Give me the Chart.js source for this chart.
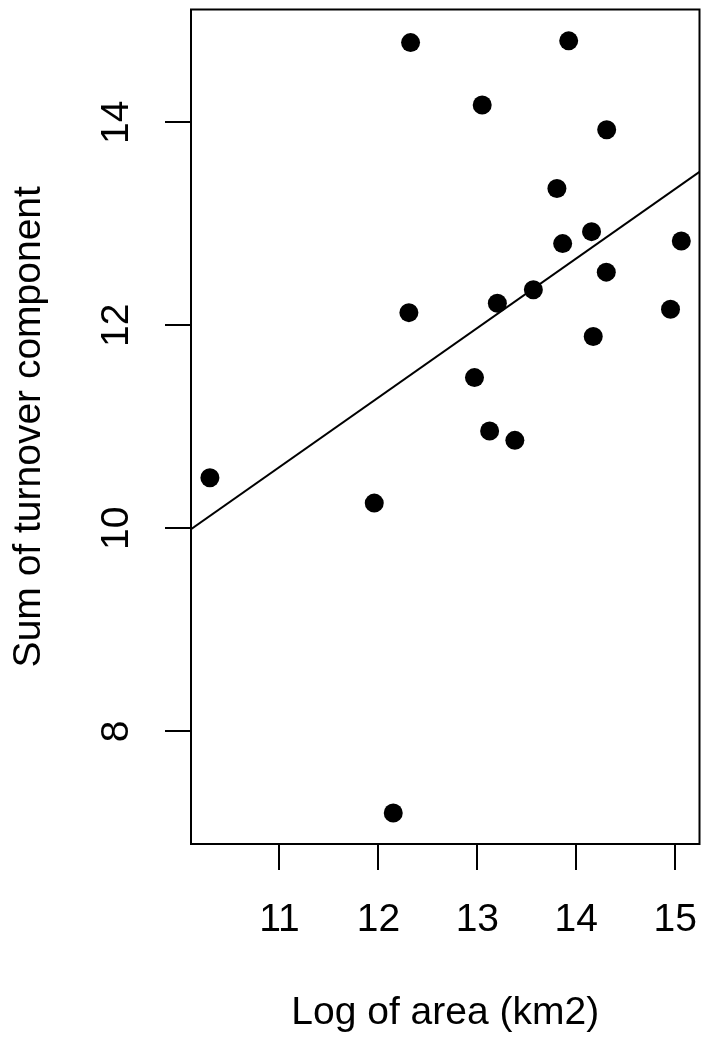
<!DOCTYPE html>
<html>
<head>
<meta charset="utf-8">
<script src="https://cdn.jsdelivr.net/npm/chart.js@4"></script>
<style>
  body { margin: 0; background: #fff; }
  canvas { display: block; }
</style>
</head>
<body>
<canvas id="turnover-chart" width="709" height="1044"></canvas>
<script>
// Valores
const logArea = [10.297, 12.325, 13.923, 13.049, 14.307, 13.804, 14.154, 13.862, 15.061, 14.303,
                 13.566, 13.202, 12.308, 14.952, 14.171, 12.971, 13.124, 13.379, 11.958, 12.15];
const turnoverSum = [10.497, 14.784, 14.801, 14.170, 13.925, 13.346, 12.922, 12.804, 12.830, 12.523,
                     12.35, 12.216, 12.124, 12.157, 11.889, 11.484, 10.958, 10.866, 10.248, 7.196];

// Recta de regresión (extremos en el borde del panel)
const fitX = [10.106, 15.245];
const fitY = [9.99, 13.51];

const xTicks = [11, 12, 13, 14, 15];
const yTicks = [8, 10, 12, 14];
const xRange = [10.106, 15.245];
const yRange = [6.89, 15.11];

const FONT = 'Liberation Sans, Arial, Helvetica, sans-serif';

// Marco del panel, como en R (bty = "o")
const boxPlugin = {
  id: 'plotBox',
  afterDraw(chart) {
    const { ctx, chartArea: a } = chart;
    ctx.save();
    ctx.strokeStyle = '#000';
    ctx.lineWidth = 2;
    ctx.strokeRect(a.left, a.top, a.right - a.left, a.bottom - a.top);
    ctx.restore();
  },
};

// Quita el relleno que Chart.js reserva para las etiquetas de los extremos
function noEdgePadding(scale) {
  scale.paddingTop = 0;
  scale.paddingBottom = 0;
  scale.paddingLeft = 0;
  scale.paddingRight = 0;
}

const ctx = document.getElementById('turnover-chart').getContext('2d');

new Chart(ctx, {
  type: 'scatter',
  data: {
    datasets: [
      {
        label: 'fit',
        data: fitX.map((x, i) => ({ x, y: fitY[i] })),
        showLine: true,
        borderColor: '#000',
        borderWidth: 2,
        pointRadius: 0,
        order: 0,
      },
      {
        label: 'sites',
        data: logArea.map((x, i) => ({ x, y: turnoverSum[i] })),
        backgroundColor: '#000',
        borderColor: '#000',
        borderWidth: 0,
        pointRadius: 9.5,
        pointHoverRadius: 9.5,
        order: 1,
      },
    ],
  },
  options: {
    responsive: false,
    animation: false,
    devicePixelRatio: 1,
    layout: { padding: { top: 6, right: 8, left: 0, bottom: 0 } },
    plugins: { legend: { display: false }, tooltip: { enabled: false } },
    scales: {
      x: {
        type: 'linear',
        min: xRange[0],
        max: xRange[1],
        afterBuildTicks: (scale) => { scale.ticks = xTicks.map((v) => ({ value: v })); },
        afterFit: (scale) => { scale.height = 200; noEdgePadding(scale); },
        border: { display: false },
        grid: { drawOnChartArea: false, drawTicks: true, tickLength: 26, color: '#000', lineWidth: 2 },
        ticks: {
          color: '#000',
          font: { family: FONT, size: 39 },
          padding: 27,
          maxRotation: 0,
          callback: (v) => String(v),
        },
        title: {
          display: true,
          text: 'Log of area (km2)',
          color: '#000',
          font: { family: FONT, size: 39 },
          padding: { top: 0, bottom: 7 },
        },
      },
      y: {
        type: 'linear',
        min: yRange[0],
        max: yRange[1],
        afterBuildTicks: (scale) => { scale.ticks = yTicks.map((v) => ({ value: v })); },
        afterFit: (scale) => { scale.width = 191; noEdgePadding(scale); },
        border: { display: false },
        grid: { drawOnChartArea: false, drawTicks: true, tickLength: 26, color: '#000', lineWidth: 2 },
        ticks: {
          color: '#000',
          font: { family: FONT, size: 39 },
          padding: 26,
          minRotation: 90,
          maxRotation: 90,
          crossAlign: 'center',
          callback: (v) => String(v),
        },
        title: {
          display: true,
          text: 'Sum of turnover component',
          color: '#000',
          font: { family: FONT, size: 39 },
          padding: { top: 6, bottom: 0 },
        },
      },
    },
  },
  plugins: [boxPlugin],
});
</script>
</body>
</html>
